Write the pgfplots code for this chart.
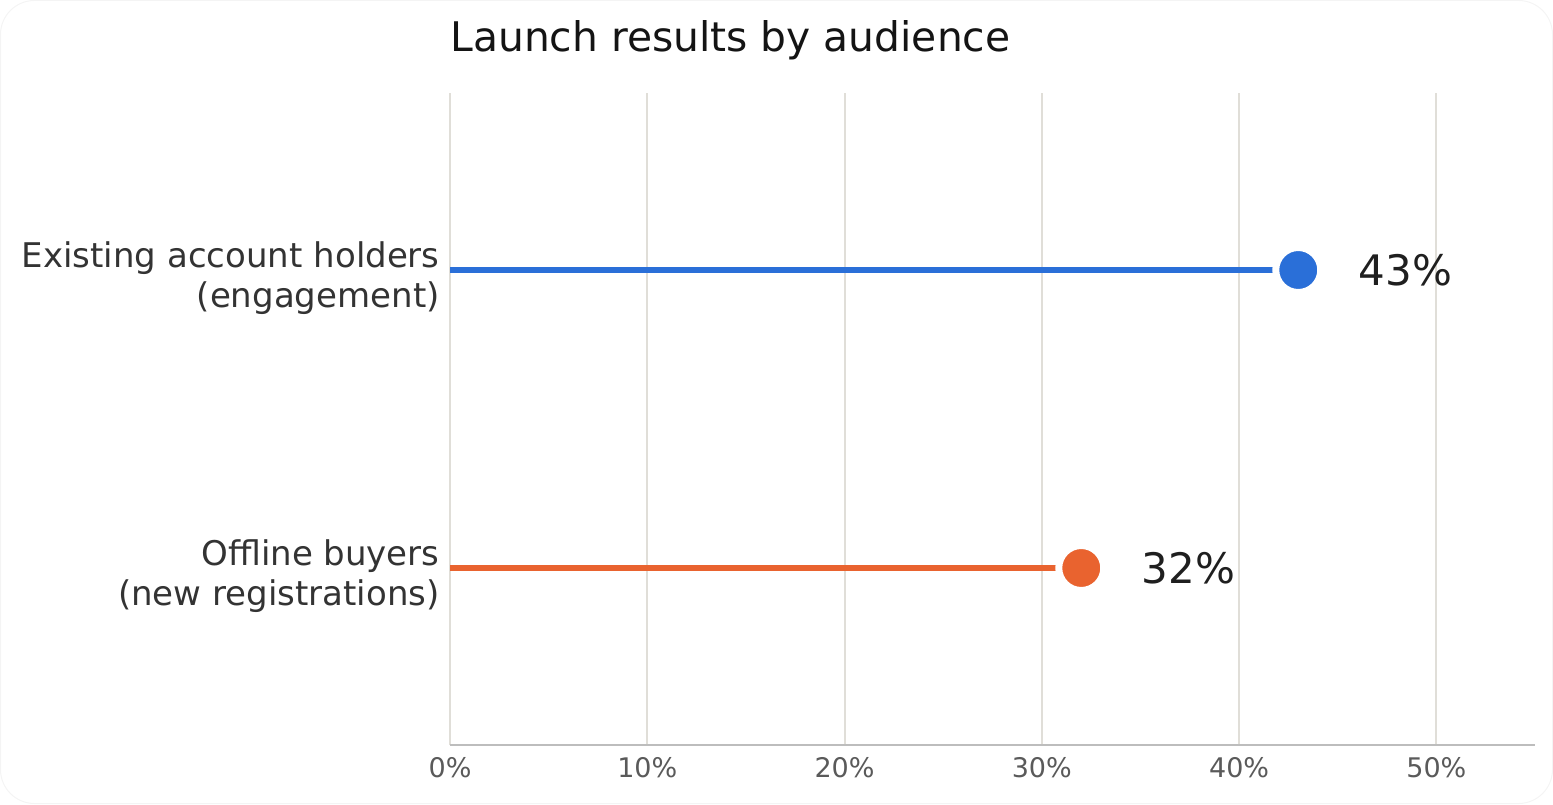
\documentclass[border=0pt]{standalone}
\usepackage{pgfplots}
\pgfplotsset{compat=1.18}
\usepackage{fontspec}
\setmainfont{DejaVu Sans}

\definecolor{gridc}{HTML}{E0DED8}
\definecolor{axisc}{HTML}{BDBDBD}
\definecolor{blueline}{HTML}{2A6FD8}
\definecolor{orangeline}{HTML}{E9632F}
\definecolor{labelc}{HTML}{333333}
\definecolor{tickc}{HTML}{5A5A5A}

\begin{document}
\begin{tikzpicture}
    \useasboundingbox (0,0) rectangle (776.5pt,402pt);
    \draw[gray!9, line width=0.5pt, rounded corners=17pt] (0.25pt,0.25pt) rectangle (776.25pt,401.75pt);
    \begin{axis}[
        at={(225pt,29.5pt)}, anchor=south west,
        scale only axis,
        width=542.5pt, height=326pt,
        xmin=0, xmax=55,
        ymin=-0.594, ymax=1.594,
        axis x line*=bottom, axis y line*=left,
        x axis line style={draw=axisc, line width=1pt},
        y axis line style={draw=none},
        major tick length=0pt,
        xtick={0,10,20,30,40,50},
        xticklabels={0\%,10\%,20\%,30\%,40\%,50\%},
        ytick={0,1},
        yticklabels={{Offline buyers\\(new registrations)},{Existing account holders\\(engagement)}},
        xmajorgrids,
        grid style={draw=gridc, line width=1pt},
        xticklabel style={font=\fontsize{13.5}{16}\selectfont, text=tickc, inner sep=0pt, yshift=-6pt},
        yticklabel style={font=\fontsize{17}{20}\selectfont, text=labelc, align=right, inner sep=0pt, xshift=-5pt, yshift=-4pt},
        clip=false,
    ]
        % stems
        \addplot[blueline, line width=3.3pt] coordinates {(0,1) (43,1)};
        \addplot[orangeline, line width=3.3pt] coordinates {(0,0) (32,0)};

        % dots with value labels
        \addplot[only marks, mark=*, mark size=11.25pt,
            mark options={fill=blueline, draw=white, line width=3.5pt},
            point meta=explicit symbolic,
            nodes near coords,
            nodes near coords style={anchor=west, inner sep=0pt, xshift=28.5pt,
                font=\fontsize{21}{25}\selectfont, text=black!88}]
            coordinates {(43,1) [43\%]};
        \addplot[only marks, mark=*, mark size=11.25pt,
            mark options={fill=orangeline, draw=white, line width=3.5pt},
            point meta=explicit symbolic,
            nodes near coords,
            nodes near coords style={anchor=west, inner sep=0pt, xshift=28.5pt,
                font=\fontsize{21}{25}\selectfont, text=black!88}]
            coordinates {(32,0) [32\%]};

        \node[anchor=base west, inner sep=0pt, yshift=20.5pt,
            font=\fontsize{20.4}{24}\selectfont, text=black!92]
            at (rel axis cs:0,1) {Launch results by audience};
    \end{axis}
\end{tikzpicture}
\end{document}
